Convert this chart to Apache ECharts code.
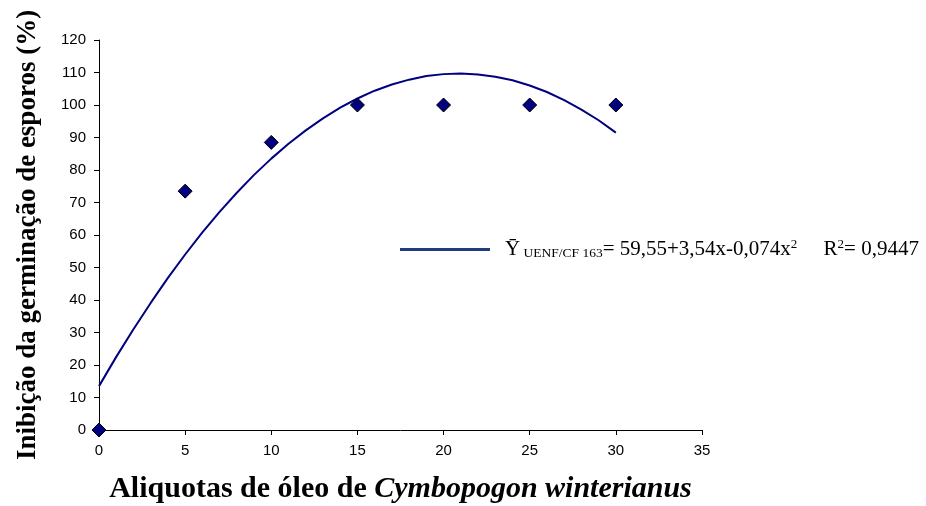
<!DOCTYPE html>
<html>
<head>
<meta charset="utf-8">
<script src="https://cdn.jsdelivr.net/npm/echarts@6/dist/echarts.min.js"></script>
<style>
html, body { margin: 0; padding: 0; background: #fff; }
#chart { width: 926px; height: 506px; }
</style>
</head>
<body>
<div id="chart"></div>
<script>
// observed points
var aliquots = [0, 5, 10, 15, 20, 25, 30];
var inhibition = [0, 73.5, 88.5, 100, 100, 100, 100];
// trend line
var trendX = [0, 1, 2, 3, 4, 5, 6, 7, 8, 9, 10, 11, 12, 13, 14, 15,
              16, 17, 18, 19, 20, 21, 22, 23, 24, 25, 26, 27, 28, 29, 30];
var trendY = [13.5, 22.5, 31, 39.1, 46.8, 54, 60.8, 67.1, 73, 78.5, 83.5, 88.1, 92.2, 95.9, 99.2, 102,
              104.4, 106.3, 107.8, 108.9, 109.5, 109.7, 109.4, 108.7, 107.6, 106, 104, 101.5, 98.6, 95.3, 91.5];

var legendName = 'trend';

var chart = echarts.init(document.getElementById('chart'));
var option = {
    animation: false,
    grid: { left: 99, right: 224, top: 40, bottom: 76, outerBoundsMode: 'none' },
    legend: {
        data: [legendName],
        left: 395,
        top: 233,
        icon: 'rect',
        itemWidth: 90,
        itemHeight: 3,
        itemGap: 0,
        formatter: function () {
            return '{f|Ȳ}{s| UENF/CF 163}{t|= 59,55+3,54x-0,074x}{p|2}{t|     R}{p|2}{t|= 0,9447}';
        },
        textStyle: {
            rich: {
                f: { fontFamily: 'Liberation Serif', fontSize: 21, color: '#000', padding: [0, 0, 0, 10] },
                t: { fontFamily: 'Liberation Serif', fontSize: 21, color: '#000' },
                s: { fontFamily: 'Liberation Serif', fontSize: 13.5, color: '#000', padding: [7, 0, 0, 0] },
                p: { fontFamily: 'Liberation Serif', fontSize: 13, color: '#000', padding: [0, 0, 10, 0] }
            }
        }
    },
    xAxis: {
        type: 'value',
        min: 0, max: 35, interval: 5,
        splitLine: { show: false },
        axisLine: { lineStyle: { color: '#000', width: 1 } },
        axisTick: { inside: false, length: 5, lineStyle: { color: '#000' } },
        axisLabel: { color: '#000', fontFamily: 'Liberation Sans', fontSize: 15, margin: 13 },
        name: '{b|Aliquotas de óleo de }{i|Cymbopogon winterianus}',
        nameLocation: 'middle',
        nameGap: 44,
        nameTextStyle: {
            rich: {
                b: { fontFamily: 'Liberation Serif', fontWeight: 'bold', fontSize: 30, color: '#000' },
                i: { fontFamily: 'Liberation Serif', fontWeight: 'bold', fontStyle: 'italic', fontSize: 30, color: '#000' }
            }
        }
    },
    yAxis: {
        type: 'value',
        min: 0, max: 120, interval: 10,
        splitLine: { show: false },
        axisLine: { show: true, lineStyle: { color: '#000', width: 1 } },
        axisTick: { show: true, inside: false, length: 5, lineStyle: { color: '#000' } },
        axisLabel: { color: '#000', fontFamily: 'Liberation Sans', fontSize: 15, margin: 13 },
        name: 'Inibição da germinação de esporos (%)',
        nameLocation: 'middle',
        nameGap: 57,
        nameTextStyle: { fontFamily: 'Liberation Serif', fontWeight: 'bold', fontSize: 27, color: '#000' }
    },
    series: [
        {
            name: legendName,
            type: 'line',
            smooth: false,
            showSymbol: false,
            data: trendX.map(function (x, i) { return [x, trendY[i]]; }),
            lineStyle: { color: '#000080', width: 2 },
            itemStyle: { color: '#1f3d7a' },
            z: 2
        },
        {
            name: 'dados',
            type: 'scatter',
            symbol: 'diamond',
            symbolSize: 14,
            data: aliquots.map(function (x, i) { return [x, inhibition[i]]; }),
            itemStyle: { color: '#000080', opacity: 1, borderColor: '#000', borderWidth: 1 },
            z: 3
        }
    ]
};
chart.setOption(option);
</script>
</body>
</html>
